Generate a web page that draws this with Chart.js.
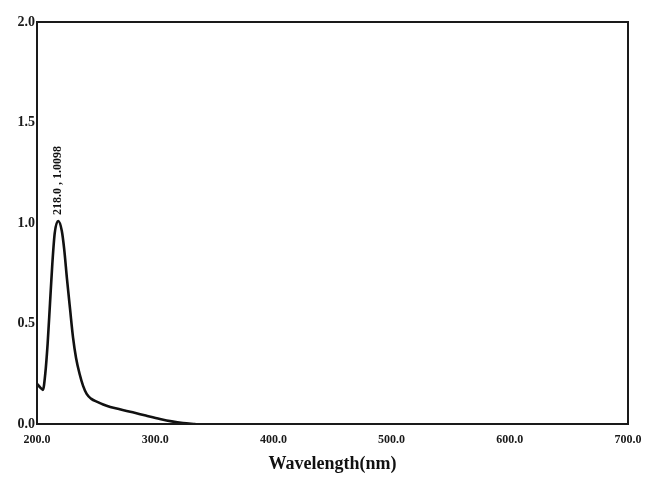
<!DOCTYPE html>
<html>
<head>
<meta charset="utf-8">
<script src="https://cdn.jsdelivr.net/npm/chart.js@4/dist/chart.umd.min.js"></script>
<style>
  html, body { margin: 0; padding: 0; background: #ffffff; }
  #wrap { width: 661px; height: 478px; }
</style>
</head>
<body>
<div id="wrap"><canvas id="c" width="661" height="478"></canvas></div>
<script>
// UV-Vis absorption spectrum
const wavelengths = [200, 203, 205, 207, 209, 211, 213, 215, 218, 221, 223, 225.4, 228, 230.5, 233, 236, 239, 242, 246, 251, 256, 262, 270, 281, 292, 304, 314, 323.5, 334];
const absorbance  = [0.20, 0.18, 0.17, 0.25, 0.40, 0.60, 0.80, 0.95, 1.0098, 0.96, 0.87, 0.72, 0.57, 0.43, 0.33, 0.25, 0.19, 0.15, 0.125, 0.11, 0.097, 0.085, 0.073, 0.058, 0.042, 0.025, 0.013, 0.005, 0.0];
const xTicks = [200, 300, 400, 500, 600, 700];
const yTicks = [0, 0.5, 1.0, 1.5, 2.0];
const peakWavelength = 218.0;
const peakAbsorbance = 1.0098;
const peakLabel = peakWavelength.toFixed(1) + ' , ' + peakAbsorbance.toFixed(4);
const xTitle = 'Wavelength(nm)';

const points = wavelengths.map((w, i) => ({ x: w, y: absorbance[i] }));

// Box around the plotting area and the rotated peak annotation
const framePlugin = {
  id: 'frame',
  afterDatasetsDraw(chart) {
    const { ctx, chartArea: a, scales } = chart;
    ctx.save();
    ctx.strokeStyle = '#1a1a1a';
    ctx.lineWidth = 2;
    ctx.strokeRect(a.left, a.top, a.right - a.left, a.bottom - a.top);

    const px = scales.x.getPixelForValue(peakWavelength);
    const py = scales.y.getPixelForValue(peakAbsorbance);
    ctx.translate(px, py - 6);
    ctx.rotate(-Math.PI / 2);
    ctx.fillStyle = '#111';
    ctx.font = 'bold 12px "Liberation Serif", serif';
    ctx.textAlign = 'left';
    ctx.textBaseline = 'middle';
    ctx.fillText(peakLabel, 0, 0);
    ctx.restore();
  }
};

new Chart(document.getElementById('c'), {
  type: 'line',
  data: {
    datasets: [{
      data: points,
      borderColor: '#111',
      borderWidth: 2.6,
      pointRadius: 0,
      cubicInterpolationMode: 'monotone',
      fill: false
    }]
  },
  options: {
    responsive: false,
    animation: false,
    layout: { padding: { top: 22, right: 33, left: 0, bottom: 0 } },
    plugins: { legend: { display: false }, tooltip: { enabled: false } },
    scales: {
      x: {
        type: 'linear',
        min: 200, max: 700,
        grid: { display: false, drawTicks: false },
        border: { display: false },
        afterBuildTicks(scale) { scale.ticks = xTicks.map(v => ({ value: v })); },
        afterFit(scale) { scale.height = 54; },
        ticks: {
          padding: 9,
          maxRotation: 0,
          autoSkip: false,
          color: '#1a1a1a',
          font: { family: '"Liberation Serif", serif', size: 12, weight: 'bold' },
          callback: v => Number(v).toFixed(1)
        },
        title: {
          display: true,
          text: xTitle,
          color: '#111',
          font: { family: '"Liberation Serif", serif', size: 18, weight: 'bold' },
          padding: { top: 0, bottom: 3 }
        }
      },
      y: {
        min: 0, max: 2.0,
        grid: { display: false, drawTicks: false },
        border: { display: false },
        afterBuildTicks(scale) { scale.ticks = yTicks.map(v => ({ value: v })); },
        afterFit(scale) { scale.width = 37; },
        ticks: {
          padding: 2,
          autoSkip: false,
          color: '#1a1a1a',
          font: { family: '"Liberation Serif", serif', size: 14, weight: 'bold' },
          callback: v => Number(v).toFixed(1)
        }
      }
    }
  },
  plugins: [framePlugin]
});
</script>
</body>
</html>
